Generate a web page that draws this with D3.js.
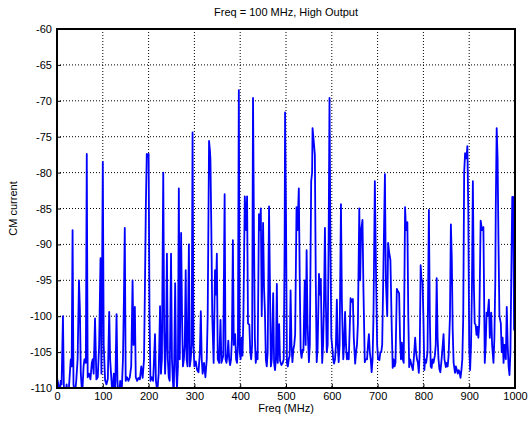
<!DOCTYPE html>
<html>
<head>
<meta charset="utf-8">
<script src="https://cdn.jsdelivr.net/npm/d3@7"></script>
<style>
  body { margin: 0; background: #fff; }
  text { font-family: "Liberation Sans", Arial, sans-serif; fill: #000; }
</style>
</head>
<body>
<div id="chart"></div>
<script>
// spectrum: frequency (MHz) and CM current
const freqs = [
  0, 3, 6, 8, 10, 13, 15, 18, 21, 24, 27, 30, 32, 34, 36, 39, 42, 45, 48, 50,
  52, 55, 58, 60, 63, 65, 67, 70, 73, 76, 78, 80, 83, 86, 89, 92, 95, 97, 100, 102,
  105, 108, 111, 114, 116, 118, 121, 124, 127, 130, 132, 135, 138, 141, 144, 146, 148, 150, 153, 156,
  159, 162, 165, 167, 170, 172, 175, 178, 181, 184, 187, 190, 192, 194, 196, 198, 200, 202, 204, 207,
  210, 214, 216, 219, 222, 225, 227, 229, 232, 234, 236, 238, 240, 242, 244, 246, 249, 251, 253, 255,
  258, 260, 262, 264, 266, 268, 271, 273, 275, 277, 279, 281, 283, 285, 288, 290, 292, 294, 296, 298,
  300, 303, 306, 309, 312, 314, 316, 318, 321, 324, 327, 329, 332, 334, 335, 337, 339, 342, 345, 347,
  349, 351, 354, 357, 359, 361, 363, 366, 368, 370, 372, 374, 376, 378, 380, 382, 384, 386, 389, 391,
  393, 395, 397, 399, 401, 403, 405, 407, 410, 413, 415, 417, 420, 422, 424, 426, 428, 430, 432, 434,
  436, 438, 441, 443, 445, 447, 450, 452, 454, 456, 458, 460, 463, 465, 467, 469, 472, 474, 476, 478,
  480, 482, 485, 487, 490, 493, 495, 497, 498, 500, 502, 504, 506, 508, 510, 512, 514, 516, 518, 520,
  523, 525, 528, 530, 532, 534, 536, 538, 541, 543, 545, 547, 550, 552, 555, 557, 558, 561, 563, 565,
  567, 569, 572, 574, 576, 578, 579, 581, 583, 585, 587, 589, 591, 593, 595, 597, 599, 601, 603, 605,
  607, 609, 611, 613, 615, 617, 620, 622, 625, 627, 629, 631, 633, 635, 637, 639, 641, 643, 646, 648,
  651, 653, 655, 657, 660, 662, 664, 667, 669, 672, 674, 677, 679, 681, 683, 685, 687, 689, 691, 694,
  697, 699, 701, 704, 706, 708, 710, 713, 716, 718, 721, 723, 725, 728, 731, 733, 735, 737, 739, 742,
  744, 747, 749, 751, 753, 755, 757, 760, 762, 765, 767, 769, 771, 773, 775, 777, 779, 782, 784, 786,
  788, 790, 792, 794, 796, 798, 800, 802, 804, 806, 809, 812, 814, 816, 818, 820, 822, 825, 827, 829,
  831, 833, 835, 837, 839, 841, 844, 846, 849, 851, 853, 855, 858, 860, 862, 864, 866, 869, 871, 873,
  875, 877, 879, 881, 883, 885, 887, 889, 891, 893, 894, 896, 898, 900, 902, 904, 906, 908, 910, 912,
  914, 916, 918, 920, 922, 925, 928, 931, 933, 934, 936, 938, 940, 943, 945, 948, 950, 953, 955, 957,
  958, 960, 962, 964, 966, 969, 971, 973, 975, 977, 980, 982, 984, 986, 988, 990, 992, 994, 996, 998,
  1000
]
const cmCurrent = [
  -108.6, -109.5, -111, -109, -109.5, -100, -109.8, -111, -109.5, -112, -109, -106, -107, -88, -109.5, -111, -109, -106, -95, -99,
  -108, -111, -107, -106, -106.5, -77.4, -108.5, -108, -108.8, -106.5, -106, -108, -100.3, -108.8, -108.5, -104, -91.9, -108, -78.5, -104,
  -108.9, -109.5, -108.7, -99.4, -106, -108, -111, -108, -111, -99.7, -109, -112, -109, -111, -106, -98, -87.7, -109, -108.5, -109,
  -108.5, -107, -95, -104, -98.7, -108.5, -109, -108.6, -108.8, -107, -108.6, -106, -96, -84.7, -77.4, -77.8, -77.4, -100, -109, -108.5,
  -109, -102.5, -109, -110.5, -108, -98.6, -108, -106, -80, -102, -108, -104, -91.3, -106, -108.5, -109, -91.3, -106, -109, -111,
  -95.4, -107, -110, -107, -82.2, -106, -88.4, -100, -107, -106, -104, -93.6, -106, -107, -90, -107, -106, -104, -74.4, -104,
  -107, -106.3, -107.5, -107.8, -105, -99.3, -106, -108, -106.5, -108.5, -106, -100, -75.6, -77, -78.2, -88, -100, -106.5, -93.6, -97,
  -91.3, -106, -106.5, -100.5, -106.5, -106, -105.5, -83, -106, -106.5, -105.5, -103.4, -106, -106.8, -106, -103, -89.4, -104, -102.5, -106,
  -106.5, -104, -68.5, -105, -106, -103, -105.5, -100, -83.3, -88, -83.3, -101, -101.2, -105, -106, -104, -69.6, -88, -103, -106.5,
  -105, -106, -85.8, -88, -85, -100, -87, -96, -99.4, -106, -107, -105, -84.7, -96, -107, -106, -96.8, -106.5, -107.5, -106,
  -95.5, -106.5, -101.1, -106.2, -106.8, -106.5, -106, -90, -71.6, -86, -106.5, -107, -106, -105.5, -96.4, -104, -106.4, -104.7, -104, -102.5,
  -84.8, -88, -82.2, -95, -104.8, -105.8, -104.7, -104.8, -95, -104, -90.8, -101, -106.4, -104, -81.2, -80, -73.8, -76, -77.5, -95,
  -106.4, -104.5, -94.1, -97, -94.8, -103, -106.5, -104, -98, -87.7, -98, -105, -104, -90, -69.6, -90, -103, -104.3, -106, -106.6,
  -106, -104, -97.7, -104, -106.4, -104, -84.4, -98, -106, -104, -99.4, -104, -106, -105.1, -106, -102, -97.5, -98, -97.6, -103,
  -106.6, -105, -104, -101, -85, -95, -88, -86.6, -96, -106.4, -106, -106, -104, -102.5, -105, -106, -107.8, -106, -100, -81.2,
  -96, -104, -106, -106.1, -105, -105, -104, -92, -80.2, -95, -100, -89.8, -91, -92.2, -102, -107.2, -106, -107, -106.5, -96.2,
  -96.5, -96.8, -103, -106, -103.7, -106, -106.5, -84.8, -88, -86.9, -100, -107.1, -106, -106.5, -107, -107.5, -106, -103, -105, -106,
  -106.5, -107.9, -105, -92.9, -95, -95, -100, -107.5, -106, -106.5, -105, -85.2, -100, -107, -107.2, -106, -106.5, -105.5, -104, -94.7,
  -103, -106, -107.4, -107.8, -106.5, -105, -102.5, -106, -107.1, -106.5, -107, -105.5, -100, -87.2, -92, -102, -106.5, -107.9, -107, -107.5,
  -108, -107.5, -107.8, -108.6, -107.5, -106, -100, -80, -77.3, -78, -78, -76.3, -85, -104, -107.5, -104, -96, -81.2, -95, -101,
  -101.2, -102.6, -101.5, -103, -101, -86.7, -88, -87.6, -100, -106.5, -104, -99.5, -100, -97.7, -103, -99.5, -104, -106.5, -103, -95,
  -85, -73.8, -78, -90, -100, -101, -105, -103, -106.5, -104, -106, -98.7, -104, -107, -108.2, -105, -94, -83.4, -83.4, -101.9,
  -101.9
]
const xTicks = [0, 100, 200, 300, 400, 500, 600, 700, 800, 900, 1000]
const yTicks = [-60, -65, -70, -75, -80, -85, -90, -95, -100, -105, -110]

const width = 529, height = 431
const margin = {top: 29, right: 14, bottom: 43, left: 57}
const innerW = width - margin.left - margin.right
const innerH = height - margin.top - margin.bottom

const svg = d3.select("#chart").append("svg")
  .attr("width", width)
  .attr("height", height)

const x = d3.scaleLinear().domain([0, 1000]).range([0, innerW])
const y = d3.scaleLinear().domain([-110, -60]).range([innerH, 0])

const g = svg.append("g").attr("transform", `translate(${margin.left},${margin.top})`)

g.append("clipPath").attr("id", "clip")
  .append("rect").attr("width", innerW).attr("height", innerH)

// dotted grid
g.append("g")
  .selectAll("line")
  .data(xTicks.slice(1, -1))
  .join("line")
  .attr("x1", d => x(d)).attr("x2", d => x(d))
  .attr("y1", 0).attr("y2", innerH)
  .attr("stroke", "#000")
  .attr("stroke-width", 1)
  .attr("stroke-dasharray", "1,2")

g.append("g")
  .selectAll("line")
  .data(yTicks.slice(1, -1))
  .join("line")
  .attr("x1", 0).attr("x2", innerW)
  .attr("y1", d => y(d)).attr("y2", d => y(d))
  .attr("stroke", "#000")
  .attr("stroke-width", 1)
  .attr("stroke-dasharray", "1,2")

const points = freqs.map((f, i) => [f, cmCurrent[i]])

g.append("path")
  .datum(points)
  .attr("clip-path", "url(#clip)")
  .attr("fill", "none")
  .attr("stroke", "#0000ff")
  .attr("stroke-width", 1.8)
  .attr("stroke-linejoin", "round")
  .attr("d", d3.line().x(d => x(d[0])).y(d => y(d[1])))

// axes, ticks point inward like matlab, plain hyphen minus in labels
const fmt = d => String(d)
const xAxis = g.append("g")
  .attr("transform", `translate(0,${innerH})`)
  .call(d3.axisBottom(x).tickValues(xTicks).tickFormat(fmt).tickSize(-4).tickPadding(4))
const yAxis = g.append("g")
  .call(d3.axisLeft(y).tickValues(yTicks).tickFormat(fmt).tickSize(-4).tickPadding(5))

for (const ax of [xAxis, yAxis]) {
  ax.select(".domain").remove()
  ax.selectAll(".tick line").attr("stroke", "#000")
  ax.selectAll("text").style("font-size", "11px")
    .style("font-family", "'Liberation Sans', Arial, sans-serif")
}

g.append("rect")
  .attr("width", innerW).attr("height", innerH)
  .attr("fill", "none")
  .attr("stroke", "#000")
  .attr("stroke-width", 2)

svg.append("text")
  .attr("x", margin.left + innerW / 2)
  .attr("y", 16)
  .attr("text-anchor", "middle")
  .style("font-size", "11px")
  .text("Freq = 100 MHz, High Output")

svg.append("text")
  .attr("x", margin.left + innerW / 2)
  .attr("y", 412)
  .attr("text-anchor", "middle")
  .style("font-size", "11px")
  .text("Freq (MHz)")

svg.append("text")
  .attr("transform", `translate(17,${margin.top + innerH / 2}) rotate(-90)`)
  .attr("text-anchor", "middle")
  .style("font-size", "11px")
  .text("CM current")
</script>
</body>
</html>
